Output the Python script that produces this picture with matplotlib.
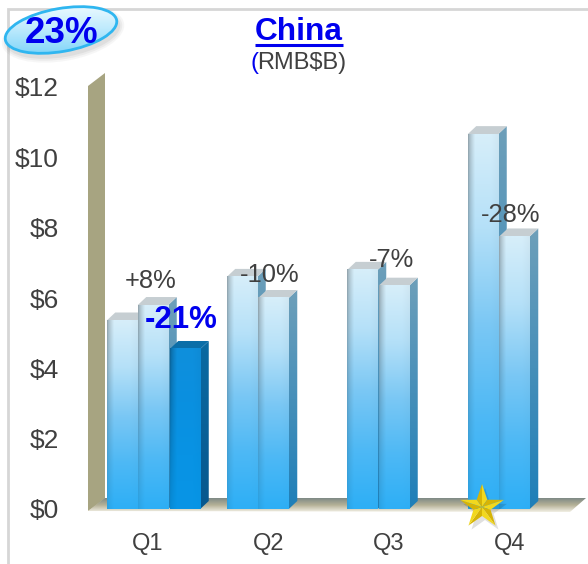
import numpy as np
import matplotlib
matplotlib.use("Agg")
import matplotlib.pyplot as plt
from matplotlib.patches import Polygon, Ellipse
from matplotlib.colors import LinearSegmentedColormap, to_rgb

plt.rcParams['font.family'] = ['Liberation Sans', 'DejaVu Sans']

quarters = ["Q1", "Q2", "Q3", "Q4"]
values_a = [5.36, 6.6, 6.8, 10.66]
values_b = [5.8, 6.0, 6.35, 7.75]
values_c = [4.55]
yticks = [0, 2, 4, 6, 8, 10, 12]
ytick_labels = ["$0", "$2", "$4", "$6", "$8", "$10", "$12"]
change_labels = ["+8%", "-21%", "-10%", "-7%", "-28%"]

W, H = 588, 564
PX_L, PX_R, PX_T, PX_B = 88, 576, 87, 509
X0 = 148.0
XSTEP = 120.5
YSTEP = (PX_B - PX_T) / 12.0
BAR_W = 30.5
DX_PX, DY_PX = 8.5, 8.0

fig = plt.figure(figsize=(W / 100, H / 100), dpi=100, facecolor="white")


def rect(l, t, r, b):
    return [l / W, 1 - b / H, (r - l) / W, (b - t) / H]


bg = fig.add_axes([0, 0, 1, 1], zorder=0)
bg.set_xlim(0, W)
bg.set_ylim(H, 0)
bg.axis("off")

# frame
bg.plot([7.5, 7.5, W], [H, 9, 9], color="#d6d6d6", lw=2, solid_joinstyle="miter")

# wall
bg.add_patch(Polygon([(88, 86), (105, 73), (105, 500), (88, 511)], closed=True,
                     fc="#a7a481", ec="none"))
bg.add_patch(Polygon([(88, 511), (105, 498), (105, 511)], closed=True,
                     fc="#c4bfa0", ec="none"))

# floor: soft shadowed band fading to a pale front edge
v = np.linspace(0, 1, 40)[:, None, None]
top_c = np.array(to_rgb("#7f8a86"))
mid_c = np.array(to_rgb("#b5b197"))
bot_c = np.array(to_rgb("#f1efe4"))
floor_img = np.where(v < 0.5, top_c * (1 - v * 2) + mid_c * v * 2,
                     mid_c * (2 - v * 2) + bot_c * (v * 2 - 1))
im = bg.imshow(floor_img, extent=(88, 586, 512, 498), aspect="auto", interpolation="bilinear", zorder=1)
im.set_clip_path(Polygon([(88, 511), (105, 498), (586, 498), (570, 512)], closed=True,
                         transform=bg.transData))
bg.set_xlim(0, W)
bg.set_ylim(H, 0)

ax = fig.add_axes(rect(PX_L, PX_T, PX_R, PX_B), zorder=1)
ax.patch.set_alpha(0)
for s in ax.spines.values():
    s.set_visible(False)

xu = 1.0 / XSTEP   # data units per pixel, x
yu = 1.0 / YSTEP   # data units per pixel, y


def front_image(stops):
    ny, nx = 64, 32
    cm = LinearSegmentedColormap.from_list("f", stops)
    img = cm(np.linspace(0, 1, ny))[:, :3][:, None, :]
    img = np.repeat(img, nx, axis=1)
    u = np.linspace(0, 1, nx)
    # edges darker, centre bright; the effect fades toward the base
    edge = np.minimum(u * 4.5, 1) ** 0.7 * (0.90 + 0.10 * np.minimum((1 - u) * 4, 1))
    vv = np.linspace(0, 1, ny)[:, None]
    shade = 1 - (1 - edge[None, :]) * (0.30 - 0.22 * vv)
    return np.clip(img * shade[..., None], 0, 1)


def draw_bar(x_center_px, value, stops, side_top, side_bot, cap):
    xc = (x_center_px - X0) / XSTEP
    x0 = xc - BAR_W / 2 * xu
    x1 = xc + BAR_W / 2 * xu
    dx, dy = DX_PX * xu, DY_PX * yu
    # side
    side = np.linspace(0, 1, 32)[:, None, None]
    st, sb = np.array(to_rgb(side_top)), np.array(to_rgb(side_bot))
    ss = st * (1 - side) + sb * side
    im = ax.imshow(ss, extent=(x1, x1 + dx, 0, value + dy), aspect="auto", zorder=3,
                   interpolation="bilinear")
    im.set_clip_path(Polygon([(x1, 0), (x1 + dx, dy), (x1 + dx, value + dy), (x1, value)],
                             closed=True, transform=ax.transData))
    # top cap
    ax.add_patch(Polygon([(x0, value), (x1, value), (x1 + dx, value + dy), (x0 + dx, value + dy)],
                         closed=True, fc=cap, ec="none", zorder=3))
    # front
    ax.imshow(front_image(stops), extent=(x0, x1, 0, value), aspect="auto",
              zorder=4, interpolation="bilinear")


PALE = ["#d6eefa", "#b4e0f8", "#7cc8f4", "#4fb9f5", "#2eaff6"]
DEEP = ["#0f8fdc", "#0a90e0", "#0893e4", "#0895e6"]
SIDE_T, SIDE_B = "#6d9fba", "#1f7fb8"
CAP = "#c6ced2"
OFF_A, OFF_B = -26.5, 5.0
for i, q in enumerate(quarters):
    cx = X0 + XSTEP * i
    if i == 0:
        draw_bar(122, values_a[0], PALE, SIDE_T, SIDE_B, CAP)
        draw_bar(153, values_b[0], PALE, SIDE_T, SIDE_B, CAP)
        draw_bar(185, values_c[0], DEEP, "#0a6aa2", "#07588e", "#0b6ea8")
    else:
        draw_bar(cx + OFF_A, values_a[i], PALE, SIDE_T, SIDE_B, CAP)
        draw_bar(cx + OFF_B, values_b[i], PALE, SIDE_T, SIDE_B, CAP)

ax.set_xlim((PX_L - X0) / XSTEP, (PX_R - X0) / XSTEP)
ax.set_ylim(0, 12)
ax.set_xticks(range(len(quarters)), quarters)
ax.set_yticks(yticks, ytick_labels)
ax.tick_params(axis="both", length=0, labelsize=19, labelcolor="#404040")
ax.tick_params(axis="x", labelsize=17, pad=17)
ax.tick_params(axis="y", pad=21)

ov = fig.add_axes([0, 0, 1, 1], zorder=2)
ov.set_xlim(0, W)
ov.set_ylim(H, 0)
ov.axis("off")
ov.patch.set_alpha(0)

# badge shadow + ellipse
for grow, a in [(10, 0.05), (6, 0.07), (2, 0.09)]:
    ov.add_patch(Ellipse((63, 34), 114 + grow, 44 + grow, angle=-10, fc="#606060", ec="none", alpha=a))
yy, xx = np.mgrid[0:1:60j, 0:1:120j]
grad = LinearSegmentedColormap.from_list("b", ["#f2fcff", "#bdeafd", "#7ed4f8"])(yy)
im = ov.imshow(grad, extent=(2, 120, 56, 2), aspect="auto", zorder=2, interpolation="bilinear")
clip = Ellipse((61, 30), 113, 43, angle=-10, transform=ov.transData)
im.set_clip_path(clip)
ov.add_patch(Ellipse((61, 30), 113, 43, angle=-10, fc="none", ec="#2fb6f0", lw=2, zorder=3))
ov.set_xlim(0, W)
ov.set_ylim(H, 0)
ov.text(61.5, 33.5, "23%", color="#0000ee", fontsize=26.5, fontweight="bold", ha="center", va="center", zorder=5)

# title
ov.text(299, 32, "China", color="#0000ee", fontsize=22.8, fontweight="bold", ha="center", va="center")
ov.plot([255, 343], [45, 45], color="#0000ee", lw=2.2, solid_capstyle="butt")
ov.text(250, 63, "(", color="#0000ee", fontsize=17, ha="left", va="center")
ov.text(257.5, 63, r"RMB\$B)", color="#404040", fontsize=17, ha="left", va="center")

# change labels
label_pos = [(151, 281), (181, 320), (270, 275), (392, 260), (511, 215)]
for s, (x, y) in zip(change_labels, label_pos):
    if s == "-21%":
        ov.text(x, y, s, color="#0000ee", fontsize=22.5, fontweight="bold", ha="center", va="center", zorder=6)
    else:
        ov.text(x, y, s, color="#404040", fontsize=18.4, ha="center", va="center", zorder=6)

# star
cx, cy = 482, 507
R, r = 23, 9
ang_o = np.deg2rad(-90 + 72 * np.arange(5))
ang_i = ang_o + np.deg2rad(36)
outer = np.c_[cx + R * np.cos(ang_o), cy + R * np.sin(ang_o)]
inner = np.c_[cx + r * np.cos(ang_i), cy + r * np.sin(ang_i)]
pts = np.empty((10, 2))
pts[0::2], pts[1::2] = outer, inner
ov.add_patch(Polygon(pts + [3, 4], closed=True, fc="#000000", alpha=0.12, ec="none", zorder=6))
for k in range(10):
    tri = [(cx, cy), pts[k], pts[(k + 1) % 10]]
    ov.add_patch(Polygon(tri, closed=True, fc="#f2d81e" if k % 2 == 0 else "#d6b406",
                         ec="none", lw=0, zorder=7))

fig.savefig("out.png", dpi=100, facecolor="white")
